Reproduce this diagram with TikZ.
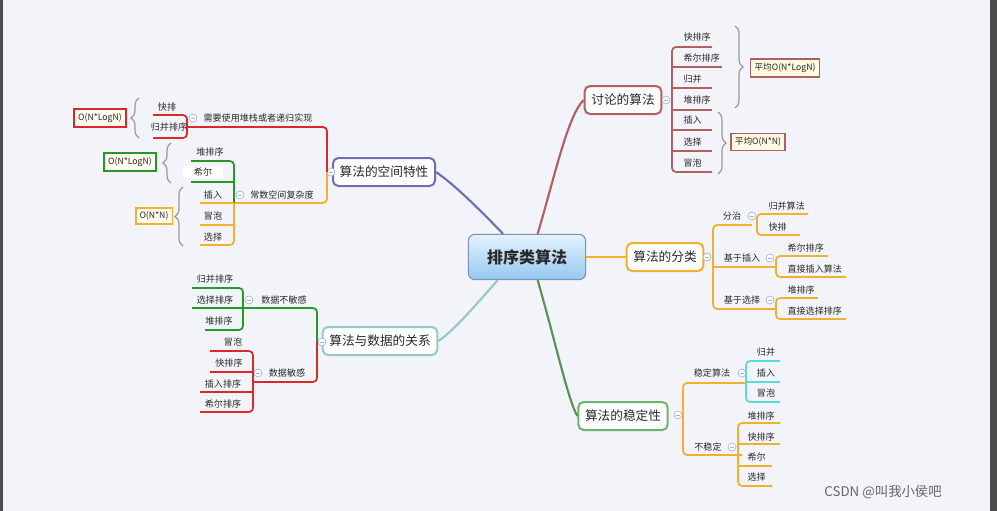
\documentclass[tikz,border=0pt]{standalone}
\usepackage{fontspec}
\setmainfont{Noto Sans CJK SC}
\usetikzlibrary{decorations.pathreplacing,shadings}
\definecolor{bgc}{RGB}{243,244,249}
\definecolor{brn}{RGB}{176,96,96}
\definecolor{org}{RGB}{240,176,48}
\definecolor{grnb}{RGB}{110,180,110}
\definecolor{grn}{RGB}{40,150,40}
\definecolor{pur}{RGB}{110,110,180}
\definecolor{tea}{RGB}{150,200,200}
\definecolor{cya}{RGB}{90,220,210}
\definecolor{rd}{RGB}{220,40,40}
\definecolor{bge}{RGB}{255,250,225}
\definecolor{txt}{RGB}{40,40,40}
\definecolor{cb}{RGB}{160,180,220}
\definecolor{ctop}{RGB}{228,242,253}
\definecolor{cbot}{RGB}{150,200,240}
\tikzset{
 mainbox/.style={draw=#1,line width=1.5pt,rounded corners=4pt,fill=white,font=\fontsize{9.5}{10}\selectfont,text=txt,minimum height=21pt,inner xsep=5pt},
 itm/.style={font=\fontsize{6.8}{7}\selectfont,text=txt,inner sep=1pt},
 cplx/.style={draw=#1,line width=1.4pt,fill=bge,font=\fontsize{6.5}{7}\selectfont,text=txt,inner sep=3pt},
 ln/.style={draw=#1,line width=1.3pt,rounded corners=3pt},
 brc/.style={draw=gray!80,line width=0.9pt,decorate,decoration={brace,amplitude=6pt}},
 mcirc/.style={circle,draw=cb,fill=white,minimum size=6pt,inner sep=0pt,line width=0.5pt,
   path picture={\draw[cb,line width=0.5pt] ([xshift=-1.5pt]path picture bounding box.center)--([xshift=1.5pt]path picture bounding box.center);}},
}
\begin{document}
\begin{tikzpicture}[x=0.75pt,y=-0.75pt]
\fill[bgc] (0,0) rectangle (997,511);
\fill[black!70] (0,0) rectangle (3,511);
\fill[black!70] (990,0) rectangle (997,511);
\useasboundingbox (0,0) rectangle (997,511);

% central
\node[draw=cb!80!black,line width=0.8pt,rounded corners=5pt,top color=ctop,bottom color=cbot,minimum width=88pt,minimum height=34pt,font=\fontsize{12}{13}\bfseries\selectfont,text=txt] (c) at (527,257) {排序类算法};

\node[mainbox=brn] (d) at (623,100) {讨论的算法};
\node[mainbox=org] (f) at (665,257) {算法的分类};
\node[mainbox=grnb] (s) at (623,416) {算法的稳定性};
\node[mainbox=pur] (k) at (384,172) {算法的空间特性};
\node[mainbox=tea] (r) at (380,341) {算法与数据的关系};

% connectors
\draw[brn,line width=1.6pt] ([xshift=8pt]c.north) .. controls (555,175) and (568,115) .. (d.west);
\draw[org,line width=2pt] (c.east) -- (f.west);
\draw[grnb!80!black,line width=1.6pt] ([xshift=8pt]c.south) .. controls (555,340) and (568,400) .. (s.west);
\draw[pur,line width=1.6pt] ([xshift=-18pt]c.north) .. controls (480,210) and (455,185) .. (k.east);
\draw[tea,line width=1.6pt] ([xshift=-22pt]c.south) .. controls (480,300) and (455,330) .. (r.east);

% ---- 讨论的算法
\draw[ln=brn] (712,47) -- (672,47) -- (672,172) -- (712,172);
\foreach \y/\e in {67/722,88/712,110/712,130/712,151/712}{\draw[ln=brn] (672,\y)--(\e,\y);}
\node[mcirc] (dc) at (666,100) {};
\foreach \y/\t in {37/快排序,58/希尔排序,79/归并,100/堆排序,120/插入,142/选择,163/冒泡}{\node[itm,anchor=west] at (682,\y) {\t};}
\draw[brc] (735,26) -- (735,108);
\draw[brc] (718,112) -- (718,174);
\node[cplx=brn] (d1) at (785,68) {平均O(N*LogN)};
\node[cplx=brn] (d2) at (758,142) {平均O(N*N)};

% ---- 算法的分类
\node[mcirc] (fc) at (707,257) {};
\draw[ln=org] (752,225) -- (713,225) -- (713,309) -- (775,309);
\draw[ln=org] (713,267) -- (775,267);
\node[itm] at (732,216) {分治};
\node[itm] at (742,258) {基于插入};
\node[itm] at (742,300) {基于选择};
\node[mcirc] at (752,216) {};
\node[mcirc] at (770,258) {};
\node[mcirc] at (770,300) {};
\draw[ln=org] (808,214) -- (757,214) -- (757,235) -- (800,235);
\draw[ln=org] (828,256) -- (776,256) -- (776,277) -- (846,277);
\draw[ln=org] (818,298) -- (776,298) -- (776,319) -- (846,319);
\foreach \x/\y/\t in {767/206/归并算法,767/227/快排,786/248/希尔排序,786/269/直接插入算法,786/290/堆排序,786/311/直接选择排序}{\node[itm,anchor=west] at (\x,\y) {\t};}

% ---- 算法的稳定性
\node[mcirc] (sc) at (678,415) {};
\draw[ln=org] (745,383) -- (683,383) -- (683,455) -- (742,455);
\node[itm] at (712,373) {稳定算法};
\node[itm] at (708,447) {不稳定};
\node[mcirc] at (742,373) {};
\node[mcirc] at (732,447) {};
\draw[ln=cya] (780,361) -- (746,361) -- (746,402) -- (780,402);
\draw[ln=cya] (746,382) -- (780,382);
\foreach \y/\t in {352/归并,373/插入,393/冒泡}{\node[itm] at (766,\y) {\t};}
\draw[ln=org] (780,423) -- (738,423) -- (738,486) -- (772,486);
\draw[ln=org] (738,444) -- (780,444);
\draw[ln=org] (738,466) -- (772,466);
\foreach \y/\t in {416/堆排序,437/快排序,457/希尔,477/选择}{\node[itm,anchor=west] at (746,\y) {\t};}

% ---- 算法的空间特性
\node[mcirc] (kc) at (331,172) {};
\draw[ln=rd] (187,127) -- (327,127) -- (327,172);
\draw[ln=org] (327,172) -- (327,203) -- (234,203);
\node[itm] at (258,118) {需要使用堆栈或者递归实现};
\node[itm] at (282,195) {常数空间复杂度};
\node[mcirc] at (193,118) {};
\node[mcirc] at (240,195) {};
\draw[ln=rd] (153,115) -- (187,115) -- (187,138) -- (153,138);
\node[itm] at (167,107) {快排};
\node[itm] at (169,127) {归并排序};
\draw[brc] (139,138) -- (139,98);
\node[cplx=rd,fill=white!50!bge] (k1) at (100,118) {O(N*LogN)};
\draw[ln=grn] (191,161) -- (234,161) -- (234,203);
\draw[ln=grn] (191,182) -- (234,182);
\node[itm] at (210,152) {堆排序};
\node[itm,fill=white,minimum width=30pt] at (203,172) {希尔};
\draw[ln=org] (234,203) -- (234,245) -- (200,245);
\draw[ln=org] (200,203) -- (234,203);
\draw[ln=org] (200,225) -- (234,225);
\node[itm] at (213,195) {插入};
\node[itm] at (213,216) {冒泡};
\node[itm] at (213,237) {选择};
\draw[brc] (171,183) -- (171,143);
\draw[brc] (183,246) -- (183,187);
\node[cplx=grn,fill=white!50!bge] (k2) at (130,162) {O(N*LogN)};
\node[cplx=org,fill=white!50!bge] (k3) at (154,216) {O(N*N)};

% ---- 算法与数据的关系
\node[mcirc] (rc) at (322,342) {};
\draw[ln=grn] (243,308) -- (317,308) -- (317,342);
\draw[ln=rd] (317,342) -- (317,382) -- (253,382);
\node[itm] at (284,300) {数据不敏感};
\node[itm] at (287,373) {数据敏感};
\node[mcirc] at (249,300) {};
\node[mcirc] at (258,373) {};
\draw[ln=grn] (192,288) -- (243,288) -- (243,330) -- (205,330);
\draw[ln=grn] (192,308) -- (243,308);
\node[itm] at (215,279) {归并排序};
\node[itm] at (215,300) {选择排序};
\node[itm] at (219,321) {堆排序};
\draw[ln=rd] (210,351) -- (253,351) -- (253,412) -- (200,412);
\draw[ln=rd] (210,372) -- (253,372);
\draw[ln=rd] (200,392) -- (253,392);
\node[itm] at (233,342) {冒泡};
\node[itm] at (229,363) {快排序};
\node[itm] at (223,384) {插入排序};
\node[itm] at (223,404) {希尔排序};

\node[font=\fontsize{10}{11}\selectfont,text=black!60] (w) at (883,492) {CSDN @叫我小侯吧};
\end{tikzpicture}
\end{document}
